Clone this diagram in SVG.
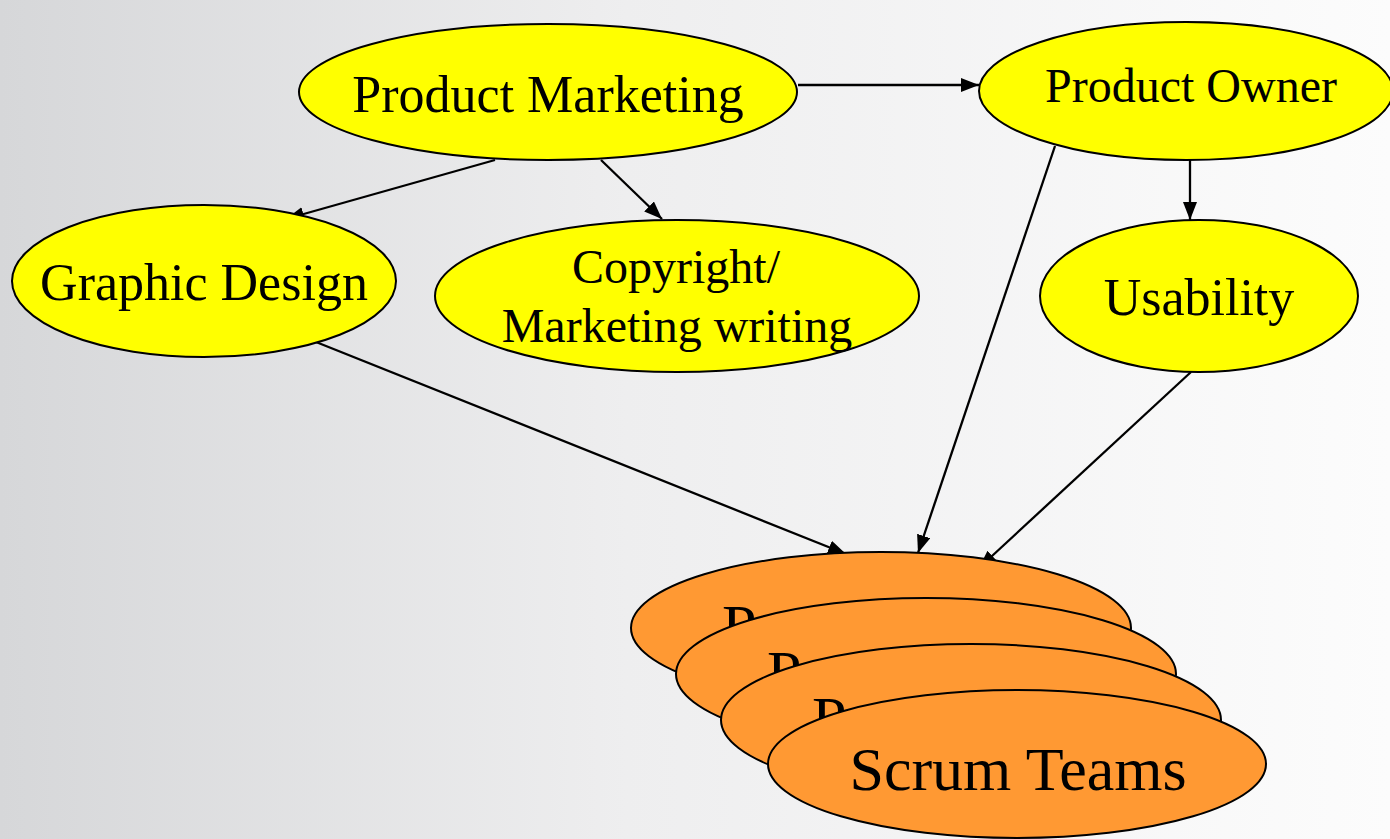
<svg xmlns="http://www.w3.org/2000/svg" width="1390" height="839" viewBox="0 0 1390 839">
<defs>
<linearGradient id="bg" x1="0" y1="0" x2="1" y2="0">
<stop offset="0" stop-color="#d6d7d9"/>
<stop offset="0.45" stop-color="#eeeeef"/>
<stop offset="1" stop-color="#fcfcfc"/>
</linearGradient>
<marker id="arr" markerUnits="userSpaceOnUse" markerWidth="20" markerHeight="16" refX="18" refY="7" orient="auto">
<path d="M0,0 L18,7 L0,14 z" fill="#000"/>
</marker>
<style>
.y{fill:#ffff00;stroke:#000;stroke-width:2}
.o{fill:#ff9933;stroke:#000;stroke-width:2}
.t{font-family:"Liberation Serif","Times New Roman",serif;fill:#000;text-anchor:middle}
.s{text-anchor:start}
.c{stroke:#000;stroke-width:2.3;fill:none;marker-end:url(#arr)}
</style>
</defs>
<rect width="1390" height="839" fill="url(#bg)"/>
<g id="connectors">
<line class="c" x1="798" y1="85" x2="979" y2="85"/>
<line class="c" x1="495" y1="160" x2="286" y2="219"/>
<line class="c" x1="601" y1="160" x2="662" y2="219"/>
<line class="c" x1="1190" y1="160" x2="1190" y2="220"/>
<line class="c" x1="1055" y1="146" x2="918" y2="553"/>
<line class="c" x1="316" y1="342" x2="846" y2="554"/>
<line class="c" x1="1191" y1="372" x2="979" y2="568"/>
</g>
<g id="product-marketing">
<ellipse class="y" cx="548" cy="92" rx="249" ry="68"/>
<text class="t" x="548" y="112" font-size="52">Product Marketing</text>
</g>
<g id="product-owner">
<ellipse class="y" cx="1186" cy="91" rx="207" ry="69"/>
<text class="t" x="1191" y="102" font-size="48">Product Owner</text>
</g>
<g id="graphic-design">
<ellipse class="y" cx="204" cy="281" rx="192" ry="76"/>
<text class="t" x="204" y="300" font-size="52">Graphic Design</text>
</g>
<g id="copyright">
<ellipse class="y" cx="677" cy="296" rx="242" ry="76"/>
<text class="t" x="676" y="283" font-size="48">Copyright/</text>
<text class="t" x="677" y="342" font-size="48">Marketing writing</text>
</g>
<g id="usability">
<ellipse class="y" cx="1199" cy="296" rx="159" ry="76"/>
<text class="t" x="1199" y="315" font-size="52">Usability</text>
</g>
<g id="scrum-1">
<ellipse class="o" cx="881" cy="628" rx="250" ry="76"/>
<text class="t s" x="722" y="647" font-size="62">Pr</text>
</g>
<g id="scrum-2">
<ellipse class="o" cx="926" cy="674" rx="250" ry="76"/>
<text class="t s" x="767" y="693" font-size="62">Pr</text>
</g>
<g id="scrum-3">
<ellipse class="o" cx="971" cy="720" rx="250" ry="76"/>
<text class="t s" x="812" y="739" font-size="62">Pr</text>
</g>
<g id="scrum-teams">
<ellipse class="o" cx="1017" cy="764" rx="249" ry="74"/>
<text class="t" x="1018" y="790" font-size="62">Scrum Teams</text>
</g>
</svg>
